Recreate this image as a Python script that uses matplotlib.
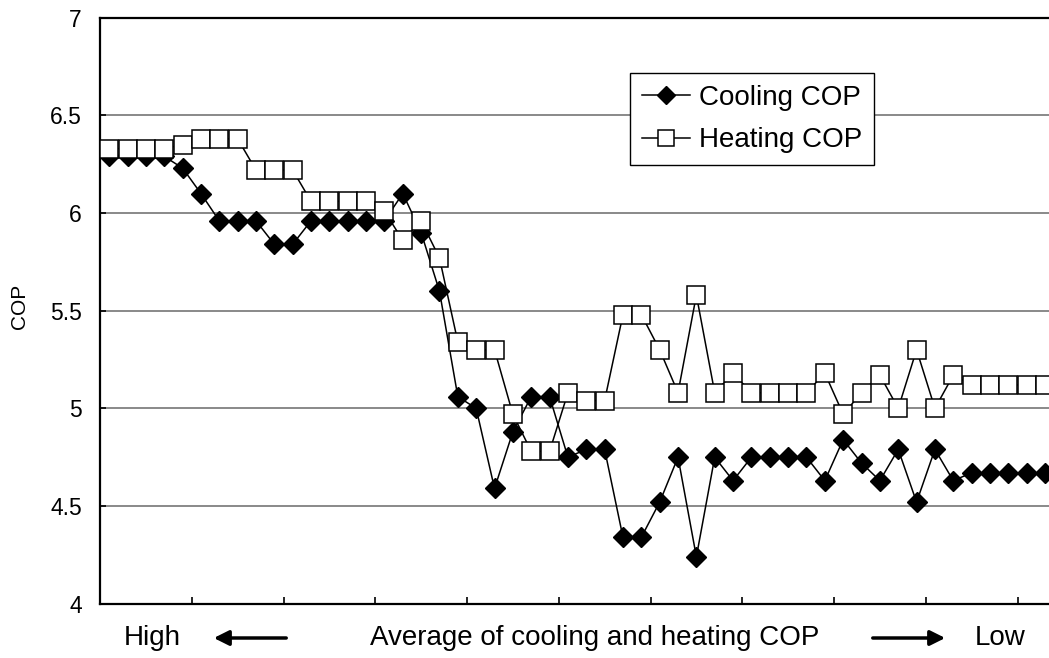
import numpy as np
import matplotlib
matplotlib.use("Agg")
import matplotlib.pyplot as plt
from matplotlib.ticker import FuncFormatter, FixedLocator
from matplotlib.patches import FancyArrowPatch

plt.rcParams['font.family'] = ['Liberation Sans', 'DejaVu Sans']

# COP values, ordered from high to low average COP
cooling_cop = [6.29, 6.29, 6.29, 6.29, 6.23, 6.10, 5.96, 5.96, 5.96, 5.84,
               5.84, 5.96, 5.96, 5.96, 5.96, 5.96, 6.10, 5.90, 5.60, 5.06,
               5.00, 4.59, 4.88, 5.06, 5.06, 4.75, 4.79, 4.79, 4.34, 4.34,
               4.52, 4.75, 4.24, 4.75, 4.63, 4.75, 4.75, 4.75, 4.75, 4.63,
               4.84, 4.72, 4.63, 4.79, 4.52, 4.79, 4.63, 4.67, 4.67, 4.67,
               4.67, 4.67]
heating_cop = [6.33, 6.33, 6.33, 6.33, 6.35, 6.38, 6.38, 6.38, 6.22, 6.22,
               6.22, 6.06, 6.06, 6.06, 6.06, 6.01, 5.86, 5.96, 5.77, 5.34,
               5.30, 5.30, 4.97, 4.78, 4.78, 5.08, 5.04, 5.04, 5.48, 5.48,
               5.30, 5.08, 5.58, 5.08, 5.18, 5.08, 5.08, 5.08, 5.08, 5.18,
               4.97, 5.08, 5.17, 5.00, 5.30, 5.00, 5.17, 5.12, 5.12, 5.12,
               5.12, 5.12]
y_ticks = [4, 4.5, 5, 5.5, 6, 6.5, 7]

x = np.arange(len(cooling_cop))

fig = plt.figure(figsize=(10.49, 6.58), dpi=100)
W, H = 1049.0, 658.0
# axes placed in pixels; right edge runs past the figure like the original
ax = fig.add_axes([100 / W, 54.3 / H, 954.2 / W, 586 / H])

ax.plot(x, cooling_cop, color='black', lw=1.1, marker='D', markersize=10.2,
        markerfacecolor='black', markeredgecolor='black', label='Cooling COP',
        zorder=3, clip_on=False)
ax.plot(x, heating_cop, color='black', lw=1.1, marker='s', markersize=13,
        markerfacecolor='white', markeredgecolor='black', markeredgewidth=1.1,
        label='Heating COP', zorder=4, clip_on=False)

ax.set_xlim(-0.5, len(x) - 0.5)
ax.set_ylim(4, 7)
ax.xaxis.set_major_locator(FixedLocator(np.arange(-0.5, len(x), 5)))
ax.set_xticklabels([])
ax.tick_params(axis='x', direction='in', length=5, width=1.2, color='black')
ax.set_yticks(y_ticks)
ax.yaxis.set_major_formatter(FuncFormatter(lambda v, p: '%g' % v))
ax.tick_params(axis='y', direction='in', length=4, width=1.2, pad=13,
               labelsize=16.5, color='black')
ax.grid(axis='y', color='#808080', lw=1.3, zorder=0)
ax.set_axisbelow(True)
for s in ax.spines.values():
    s.set_color('black')
    s.set_linewidth(1.6)

fig.text(20 / W, 1 - 306 / H, 'COP', rotation=90, ha='center', va='center',
         fontsize=15)

leg = ax.legend(loc='upper left', bbox_to_anchor=(630 / W, 1 - 73 / H),
                bbox_transform=fig.transFigure, borderaxespad=0,
                fontsize=20, fancybox=False, framealpha=1, edgecolor='black',
                handlelength=1.73, handletextpad=0.32, borderpad=0.42,
                labelspacing=0.6, markerscale=0.9)
leg.get_frame().set_linewidth(1.0)

# bottom annotation
ty = 1 - 638 / H
fig.text(152 / W, ty, 'High', ha='center', va='center', fontsize=20)
fig.text(595 / W, ty, 'Average of cooling and heating COP', ha='center',
         va='center', fontsize=20)
fig.text(1000 / W, ty, 'Low', ha='center', va='center', fontsize=20)
for x0, x1 in [(289, 211), (870, 948)]:
    arr = FancyArrowPatch((x0 / W, ty), (x1 / W, ty), transform=fig.transFigure,
                          arrowstyle='-|>,head_length=9,head_width=4.5',
                          lw=2.5, color='black', mutation_scale=1)
    fig.patches.append(arr)

fig.savefig('out.png', dpi=100)
